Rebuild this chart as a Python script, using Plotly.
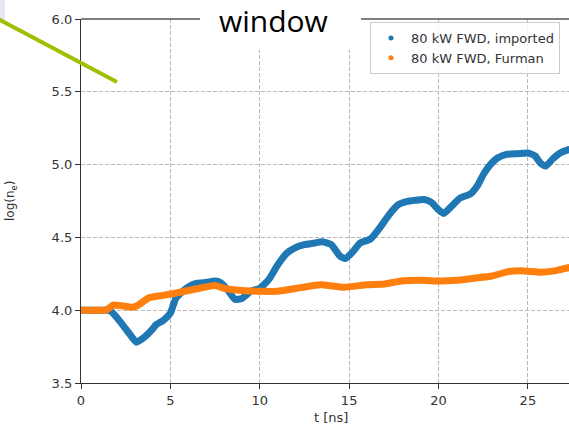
import plotly.graph_objects as go

# ---- data ----
t_imported = [0, 0.5, 1.0, 1.5, 1.7, 2.2, 2.7, 3.1, 3.5, 4.0, 4.2, 4.6, 5.0, 5.3, 5.6, 6.0, 6.5, 7.0, 7.5,
              7.8, 8.2, 8.6, 9.0, 9.5, 10.0, 10.5, 11.0, 11.5, 12.0, 12.5, 13.0, 13.5, 14.0, 14.5, 14.8,
              15.2, 15.6, 16.2, 16.8, 17.2, 17.7, 18.2, 18.7, 19.2, 19.6, 20.0, 20.3, 20.7, 21.2, 21.8,
              22.2, 22.5, 22.9, 23.3, 23.8, 24.4, 25.0, 25.4, 25.7, 26.0, 26.4, 26.8, 27.2, 27.4]
v_imported = [4.0, 4.0, 4.0, 4.0, 3.99, 3.92, 3.84, 3.78, 3.81, 3.87, 3.90, 3.93, 3.98, 4.08, 4.12, 4.16, 4.185, 4.19, 4.20,
              4.19, 4.14, 4.075, 4.08, 4.13, 4.15, 4.21, 4.31, 4.39, 4.43, 4.45, 4.46, 4.47, 4.45, 4.37, 4.355,
              4.40, 4.46, 4.49, 4.58, 4.65, 4.72, 4.745, 4.755, 4.76, 4.74, 4.69, 4.665, 4.71, 4.77, 4.80,
              4.86, 4.93, 5.00, 5.045, 5.07, 5.075, 5.08, 5.06, 5.01, 4.99, 5.04, 5.08, 5.10, 5.105]

t_furman = [0, 0.5, 1.0, 1.4, 1.8, 2.3, 2.9, 3.2, 3.8, 4.5, 5.2, 6.0, 7.0, 7.5, 8.0, 9.0, 10.0, 11.0, 12.3,
            13.4, 14.7, 16.0, 17.0, 17.9, 19.0, 20.1, 21.0, 22.0, 23.0, 23.9, 24.8, 25.7, 26.5, 27.2, 27.4]
v_furman = [4.0, 4.0, 4.0, 4.0, 4.035, 4.03, 4.02, 4.035, 4.085, 4.10, 4.115, 4.135, 4.16, 4.17, 4.15, 4.135, 4.13, 4.13, 4.155,
            4.175, 4.158, 4.175, 4.18, 4.20, 4.205, 4.2, 4.205, 4.22, 4.235, 4.265, 4.27, 4.26, 4.27, 4.29, 4.295]

names = ["80 kW FWD, imported", "80 kW FWD, Furman"]
colors = ["#1f77b4", "#ff7f0e"]
x_ticks = [0, 5, 10, 15, 20, 25]
y_ticks = [3.5, 4.0, 4.5, 5.0, 5.5, 6.0]

W, H = 569, 424
L, R, T, B = 81, 0, 19, 41
pw, ph = W - L - R, H - T - B

def px(x):
    return (x - L) / pw

def py(y):
    return (H - B - y) / ph

fig = go.Figure()
fig.add_trace(go.Scatter(x=t_imported, y=v_imported, mode="lines",
                         line=dict(color=colors[0], width=7, shape="spline", smoothing=0.5),
                         showlegend=False))
fig.add_trace(go.Scatter(x=t_furman, y=v_furman, mode="lines",
                         line=dict(color=colors[1], width=7, shape="spline", smoothing=0.5),
                         showlegend=False))
for n, c in zip(names, colors):
    fig.add_trace(go.Scatter(x=[None], y=[None], mode="markers", name=n,
                             marker=dict(color=c, size=5)))

grid = dict(showgrid=True, gridcolor="#b8b8b8", griddash="4px,2px", gridwidth=1,
            zeroline=False, showline=True, linecolor="#333", linewidth=1.2,
            ticks="outside", ticklen=5, tickcolor="#333",
            tickfont=dict(family="DejaVu Sans", size=13, color="#333"))

fig.update_layout(
    width=W, height=H,
    margin=dict(l=L, r=R, t=T, b=B, autoexpand=False),
    plot_bgcolor="white", paper_bgcolor="white",
    xaxis=dict(range=[0, 27.3], tickvals=x_ticks, ticktext=[str(v) for v in x_ticks], **grid),
    yaxis=dict(range=[3.5, 6.0], tickvals=y_ticks, ticktext=[f"{v:.1f}" for v in y_ticks], **grid),
    legend=dict(x=px(370), y=py(22), xanchor="left", yanchor="top",
                bgcolor="rgba(255,255,255,0.8)", bordercolor="#cccccc", borderwidth=1,
                font=dict(family="DejaVu Sans", size=13, color="#333"),
                tracegroupgap=0),
)

# white title box covering the top of the plot
fig.add_shape(type="rect", xref="paper", yref="paper", x0=px(200), x1=px(361), y0=py(50), y1=py(-2),
              fillcolor="white", line=dict(width=0), layer="above")
# top spine, broken by the title box
fig.add_shape(type="line", xref="paper", yref="paper", x0=0, x1=px(200), y0=1, y1=1,
              line=dict(color="#555", width=1.5), layer="above")
fig.add_shape(type="line", xref="paper", yref="paper", x0=px(361), x1=1, y0=1, y1=1,
              line=dict(color="#555", width=1.5), layer="above")
fig.add_annotation(text="window", xref="paper", yref="paper", x=px(273), y=py(21),
                   xanchor="center", yanchor="middle", showarrow=False,
                   font=dict(family="Open Sans", size=30, color="black"))

# light panel and green stroke at top-left
fig.add_shape(type="rect", xref="paper", yref="paper", x0=px(0), x1=px(5), y0=py(21), y1=py(-2),
              fillcolor="#e8e9f0", line=dict(width=0), layer="above")
fig.add_shape(type="line", xref="paper", yref="paper", x0=px(-2), y0=py(19), x1=px(117), y1=py(82),
              line=dict(color="#9dc100", width=4), layer="above")

# axis titles
fig.add_annotation(text="t [ns]", xref="paper", yref="paper", x=px(331), y=py(417),
                   xanchor="center", yanchor="middle", showarrow=False,
                   font=dict(family="DejaVu Sans", size=13, color="#333"))
fig.add_annotation(text="log(n<sub>e</sub>)", xref="paper", yref="paper", x=px(11), y=py(201),
                   xanchor="center", yanchor="middle", showarrow=False, textangle=-90,
                   font=dict(family="DejaVu Sans", size=12, color="#333"))

fig.write_html("out.html", config={"displayModeBar": False},
               post_script="document.body.style.margin='0';document.body.style.overflow='hidden';")
